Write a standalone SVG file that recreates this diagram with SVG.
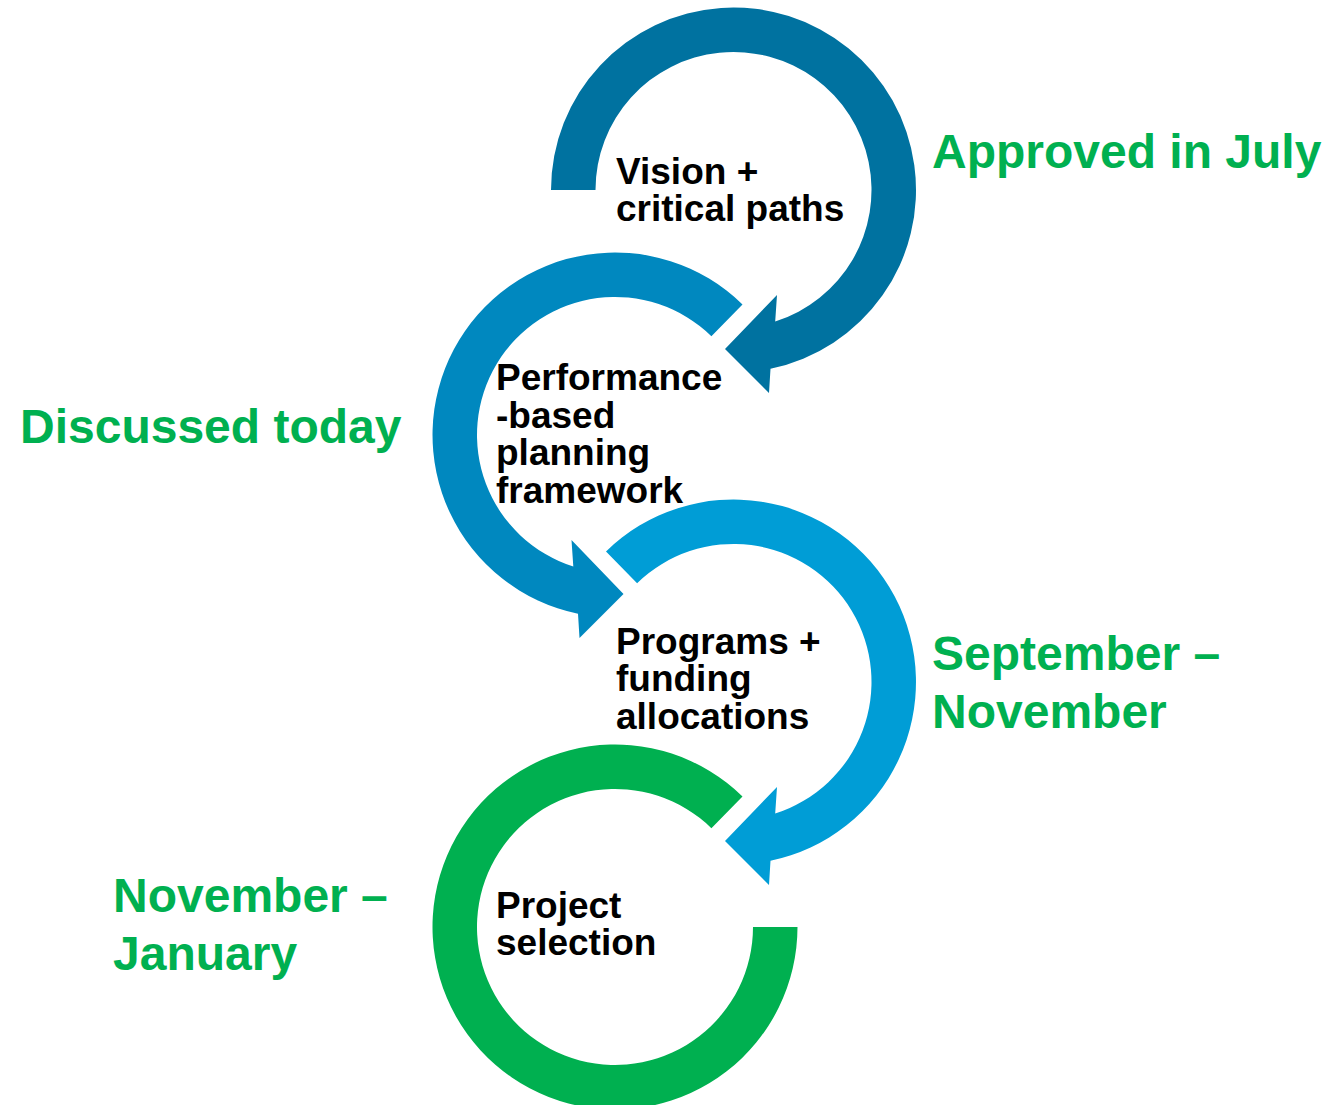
<svg xmlns="http://www.w3.org/2000/svg" width="1325" height="1105" viewBox="0 0 1325 1105">
<style>
.node-text{font-family:"Liberation Sans",Arial,sans-serif;font-weight:bold;font-size:37px;fill:#000}
.label{font-family:"Liberation Sans",Arial,sans-serif;font-weight:bold;font-size:48px;fill:#00B050}
.c1{fill:#0072A0}.c2{fill:#0088BF}.c3{fill:#009DD6}.c4{fill:#00B050}
</style>
<rect width="1325" height="1105" fill="#fff"/>
<g id="node-vision">
<path class="c1" d="M551,190 A182.5,182.5 0 1 1 770.5,368.7 L769,393 L725,349 L777,295 L775.2,321.5 A138,138 0 1 0 595.5,190 Z"/>
<text class="node-text" x="616" y="184">Vision +</text>
<text class="node-text" x="616" y="221">critical paths</text>
</g>
<g id="node-performance">
<path class="c2" d="M742.5,304.4 A182.5,182.5 0 1 0 578,613.7 L579.5,638 L623.5,594 L571.5,540 L573.3,566.5 A138,138 0 1 1 711.4,336.2 Z"/>
<text class="node-text" x="496" y="389.5">Performance</text>
<text class="node-text" x="496" y="427.5">-based</text>
<text class="node-text" x="496" y="465">planning</text>
<text class="node-text" x="496" y="503">framework</text>
</g>
<g id="node-programs">
<path class="c3" d="M606,551.4 A182.5,182.5 0 1 1 770.5,860.7 L769,885 L725,841 L777,787 L775.2,813.5 A138,138 0 1 0 637.1,583.2 Z"/>
<text class="node-text" x="616" y="653.5">Programs +</text>
<text class="node-text" x="616" y="691">funding</text>
<text class="node-text" x="616" y="728.5">allocations</text>
</g>
<g id="node-project">
<path class="c4" d="M742.5,796.4 A182.5,182.5 0 1 0 797.5,927 L753,927 A138,138 0 1 1 711.4,828.2 Z"/>
<text class="node-text" x="496" y="918">Project</text>
<text class="node-text" x="496" y="955">selection</text>
</g>
<g id="labels">
<text class="label" x="932" y="168">Approved in July</text>
<text class="label" x="20" y="443">Discussed today</text>
<text class="label" x="932" y="670">September –</text>
<text class="label" x="932" y="728">November</text>
<text class="label" x="113" y="912">November –</text>
<text class="label" x="113" y="970">January</text>
</g>
</svg>
